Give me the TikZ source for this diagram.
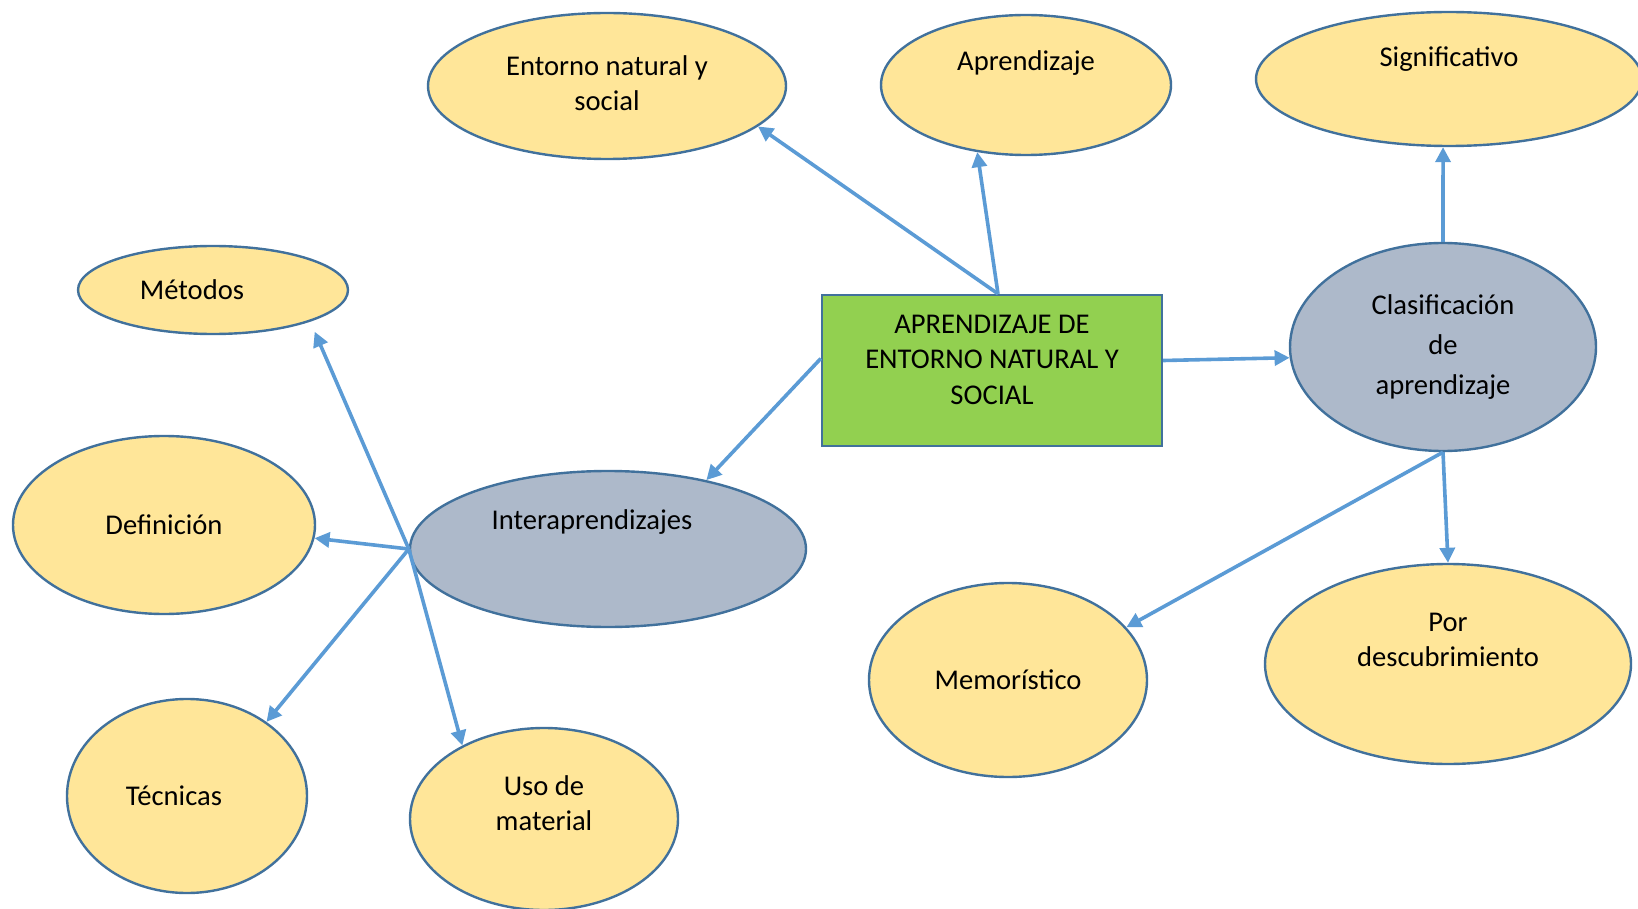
\documentclass[tikz,border=0pt]{standalone}
\usepackage{fontspec}
\setmainfont{Carlito}
\usetikzlibrary{arrows.meta,shapes.geometric}
\definecolor{IdeaClr}{rgb}{1,0.902,0.6}
\definecolor{GroupClr}{rgb}{0.678,0.725,0.792}
\definecolor{MainClr}{rgb}{0.573,0.816,0.314}
\definecolor{EdgeClr}{rgb}{0.255,0.443,0.612}
\definecolor{LinkClr}{rgb}{0.357,0.608,0.835}

\begin{document}
\begin{tikzpicture}[x=0.5pt,y=-0.5pt,
  font=\fontsize{14.3}{17.75}\selectfont,
  idea/.style={ellipse,draw=EdgeClr,line width=1.2pt,fill=IdeaClr,inner sep=0pt,align=center},
  group/.style={idea,fill=GroupClr},
  link/.style={draw=LinkClr,line width=1.8pt,-{Triangle[length=7.5pt,width=7.5pt]}},
  txtup/.style={text depth=#1}]
\useasboundingbox (0,0) rectangle (1638,909);

% centro
\node[draw=EdgeClr,line width=1.2pt,fill=MainClr,minimum width=170pt,minimum height=75.5pt,
  inner sep=0pt,align=center,txtup=11pt] (box) at (992,370.5)
  {APRENDIZAJE DE\\ENTORNO NATURAL Y\\SOCIAL};

% arriba
\node[idea,minimum width=179pt,minimum height=73pt,txtup=3pt] (ent) at (607,86) {Entorno natural y\\social};
\node[idea,minimum width=145pt,minimum height=70pt,txtup=24.5pt] (apr) at (1026,85) {Aprendizaje};
\node[idea,minimum width=193pt,minimum height=67pt,txtup=22.5pt] (sig) at (1449,79) {Significativo};

% derecha
\node[group,minimum width=153pt,minimum height=104pt,font=\fontsize{14.3}{20}\selectfont] (clas) at (1443,347)
  {Clasificación\\de\\aprendizaje};
\node[idea,minimum width=139pt,minimum height=97pt] (mem) at (1008,680) {Memorístico};
\node[idea,minimum width=183pt,minimum height=100pt,txtup=24pt] (por) at (1448,664) {Por\\descubrimiento};

% izquierda
\node[group,minimum width=198pt,minimum height=78pt,txtup=29.5pt] (inter) at (608,549) {Interaprendizajes\hspace*{16pt}};
\node[idea,minimum width=135pt,minimum height=44pt] (met) at (213,290) {Métodos\hspace*{21pt}};
\node[idea,minimum width=151pt,minimum height=89pt] (def) at (164,525) {Definición};
\node[idea,minimum width=120pt,minimum height=97pt] (tec) at (187,796) {Técnicas\hspace*{13pt}};
\node[idea,minimum width=134pt,minimum height=91pt,txtup=16pt] (uso) at (544,819) {Uso de\\material};

\draw[link] ([xshift=3pt]box.north) -- (ent.-15.6);
\draw[link] ([xshift=3pt]box.north) -- (apr.234);
\draw[link] ([yshift=5pt]box.east) -- (clas.184);
\draw[link] ([yshift=6pt]box.west) -- (inter.35.3);

\draw[link] (clas.north) -- (sig.265);
\draw[link] (clas.south) -- (mem.24.4);
\draw[link] (clas.south) -- (por.north);

\draw[link,shorten >=5.5pt] (inter.west) -- (met.-18);
\draw[link] (inter.west) -- (def.-5.7);
\draw[link] (inter.west) -- (tec.43.2);
\draw[link] (inter.west) -- (uso.138.2);
\end{tikzpicture}
\end{document}
